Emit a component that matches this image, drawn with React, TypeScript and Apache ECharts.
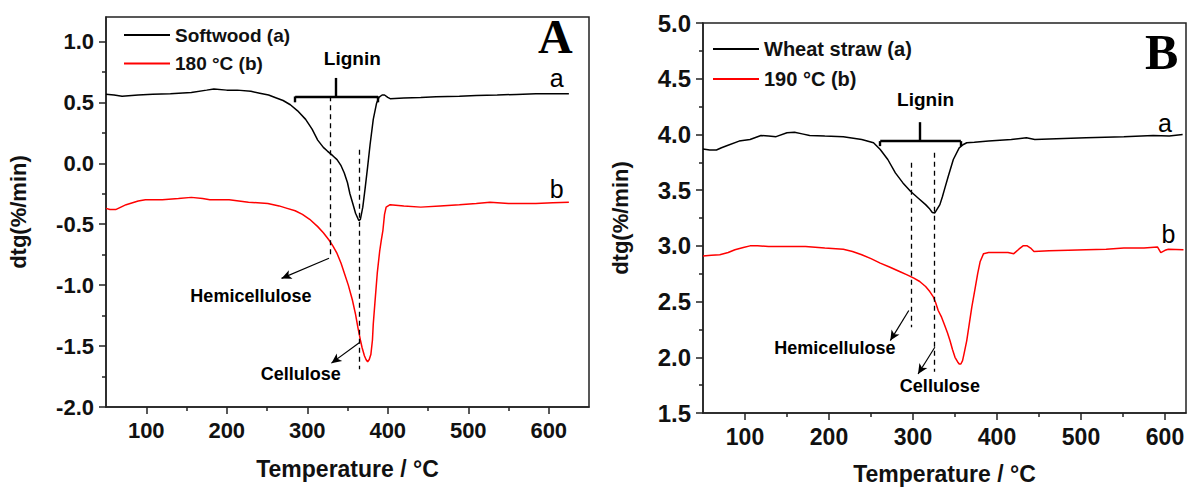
import React, { useEffect, useRef } from "react";
import * as echarts from "echarts";

const FONT = '"Liberation Sans", Arial, sans-serif';

// ---------- Panel A data (°C, dtg %/min) ----------
const softwoodA: [number, number][] = [
  [50, 0.567], [60, 0.56], [70, 0.55], [90, 0.56], [108, 0.567], [130, 0.57], [156, 0.58], [175, 0.6], [184, 0.61],
  [200, 0.6], [213, 0.6], [230, 0.59], [241, 0.575], [252, 0.56], [260, 0.54], [270, 0.515], [279, 0.48], [288, 0.43],
  [298, 0.36], [306, 0.28], [313, 0.19], [320, 0.13], [325, 0.1], [332, 0.06], [337, 0.03], [342, -0.02], [346, -0.08],
  [350, -0.16], [353, -0.25], [357, -0.34], [360, -0.41], [364, -0.47], [366, -0.46], [369, -0.36], [372, -0.2],
  [375, -0.03], [378, 0.15], [382, 0.36], [386, 0.49], [389, 0.54], [393, 0.56], [396, 0.56], [400, 0.54], [403, 0.53],
  [420, 0.535], [441, 0.54], [460, 0.545], [489, 0.55], [510, 0.555], [536, 0.56], [560, 0.565], [584, 0.57],
  [605, 0.57], [625, 0.57],
];
const treated180: [number, number][] = [
  [50, -0.37], [55, -0.38], [62, -0.38], [75, -0.34], [90, -0.31], [99, -0.3], [120, -0.3], [140, -0.29], [156, -0.28],
  [170, -0.29], [179, -0.3], [203, -0.3], [227, -0.32], [251, -0.33], [265, -0.35], [275, -0.37], [285, -0.39],
  [294, -0.42], [303, -0.46], [313, -0.52], [320, -0.57], [327, -0.63], [332, -0.68], [337, -0.74], [342, -0.82],
  [346, -0.9], [351, -1.0], [356, -1.12], [360, -1.24], [363, -1.35], [366, -1.45], [368, -1.51], [371, -1.58],
  [373, -1.61], [375, -1.63], [377, -1.61], [379, -1.57], [381, -1.45], [382, -1.32], [384, -1.15], [387, -0.9],
  [390, -0.72], [392, -0.63], [394, -0.55], [396, -0.42], [398, -0.36], [403, -0.34], [420, -0.35], [441, -0.36],
  [465, -0.35], [489, -0.34], [510, -0.33], [527, -0.32], [550, -0.33], [584, -0.33], [605, -0.325], [625, -0.32],
];

// ---------- Panel B data ----------
const wheatStrawB: [number, number][] = [
  [50, 3.87], [58, 3.86], [66, 3.86], [72, 3.88], [79, 3.9], [93, 3.94], [106, 3.955], [119, 3.99], [128, 3.985],
  [137, 3.98], [150, 4.015], [159, 4.02], [168, 4.005], [177, 3.99], [195, 3.985], [217, 3.98], [239, 3.955],
  [253, 3.925], [261, 3.865], [270, 3.775], [279, 3.655], [288, 3.565], [297, 3.49], [306, 3.43], [315, 3.37],
  [320, 3.33], [323, 3.3], [326, 3.295], [328, 3.32], [332, 3.37], [335, 3.44], [338, 3.52], [342, 3.625],
  [348, 3.775], [355, 3.88], [360, 3.91], [364, 3.925], [373, 3.93], [390, 3.94], [417, 3.955], [435, 3.97],
  [445, 3.955], [462, 3.96], [506, 3.97], [551, 3.98], [586, 3.99], [605, 3.985], [621, 4.0],
];
const treated190: [number, number][] = [
  [50, 2.91], [60, 2.915], [70, 2.92], [80, 2.94], [88, 2.965], [98, 2.985], [106, 3.0], [115, 3.0], [128, 2.995],
  [150, 2.995], [172, 2.995], [195, 2.98], [217, 2.97], [228, 2.95], [239, 2.92], [250, 2.885], [261, 2.845],
  [272, 2.81], [284, 2.77], [293, 2.74], [301, 2.71], [308, 2.68], [315, 2.635], [320, 2.59], [324, 2.545],
  [327, 2.49], [330, 2.42], [334, 2.36], [337, 2.3], [341, 2.22], [344, 2.15], [347, 2.07], [350, 2.0], [353, 1.96],
  [355, 1.94], [357, 1.94], [359, 1.97], [361, 2.04], [364, 2.15], [367, 2.3], [370, 2.45], [374, 2.62], [377, 2.75],
  [380, 2.86], [384, 2.93], [390, 2.94], [400, 2.94], [413, 2.94], [420, 2.93], [426, 2.97], [431, 3.0], [436, 3.0],
  [440, 2.98], [444, 2.95], [462, 2.955], [485, 2.96], [506, 2.965], [530, 2.97], [551, 2.98], [575, 2.98],
  [591, 2.99], [595, 2.94], [600, 2.96], [604, 2.97], [622, 2.965],
];

// ---------- Axis ticks ----------
const xTicks = [100, 200, 300, 400, 500, 600];
const yTicksA = [-2.0, -1.5, -1.0, -0.5, 0.0, 0.5, 1.0];
const yTicksB = [1.5, 2.0, 2.5, 3.0, 3.5, 4.0, 4.5, 5.0];

// ---------- Annotations (data coordinates) ----------
// bracket: [xLeft, xRight, yLine, yEnds, xCenter, yTop]
const bracketA = [285, 388, 0.548, 0.5, 335, 0.7];
const bracketB = [261, 357, 3.94, 3.895, 308, 4.11];
// dashed guides: [x, yFrom, yTo]
const dashedA: [number, number, number][] = [[328, 0.55, -0.78], [365, 0.11, -1.69]];
const dashedB: [number, number, number][] = [[298, 3.745, 2.27], [325, 3.835, 1.87]];
// arrows: [x1, y1, x2, y2]
const arrowsA: [number, number, number, number][] = [[327, -0.78, 268, -0.945], [365, -1.47, 330, -1.64]];
const arrowsB: [number, number, number, number][] = [[295, 2.42, 273, 2.15], [326, 2.09, 306, 1.85]];
// labels: [x, y, text, bold]
const labelsA: [number, number, string, boolean][] = [
  [356, 0.86, "Lignin", true], [230, -1.09, "Hemicellulose", true], [292, -1.73, "Cellulose", true],
  [610, 0.7, "a", false], [610, -0.21, "b", false],
];
const labelsB: [number, number, string, boolean][] = [
  [315, 4.315, "Lignin", true], [207, 2.08, "Hemicellulose", true], [332, 1.74, "Cellulose", true],
  [600, 4.105, "a", false], [604, 3.11, "b", false],
];

const seriesNamesA = ["Softwood (a)", "180 °C (b)"];
const seriesNamesB = ["Wheat straw (a)", "190 °C (b)"];

const GRID_W = 483;
const GRID_H = 390;
const AXIS_COLOR = "#222";

function annotationLines(br: number[], dashed: [number, number, number][], arrows: [number, number, number, number][]) {
  const solid = { color: "#000", width: 2.4, type: "solid" as const };
  const data: any[] = [
    [{ coord: [br[0], br[2]], lineStyle: solid }, { coord: [br[1], br[2]] }],
    [{ coord: [br[0], br[2]], lineStyle: solid }, { coord: [br[0], br[3]] }],
    [{ coord: [br[1], br[2]], lineStyle: solid }, { coord: [br[1], br[3]] }],
    [{ coord: [br[4], br[2]], lineStyle: solid }, { coord: [br[4], br[5]] }],
  ];
  dashed.forEach((d) => {
    data.push([
      { coord: [d[0], d[1]], lineStyle: { color: "#000", width: 1.3, type: [5, 4] } },
      { coord: [d[0], d[2]] },
    ]);
  });
  arrows.forEach((a) => {
    data.push([
      { coord: [a[0], a[1]], symbol: "none", lineStyle: { color: "#000", width: 1.2, type: "solid" } },
      { coord: [a[2], a[3]], symbol: "arrow", symbolSize: [7, 10] },
    ]);
  });
  return {
    silent: true,
    symbol: "none",
    animation: false,
    label: { show: false },
    emphasis: { disabled: true },
    data,
  };
}

function labelSeries(labels: [number, number, string, boolean][], axisIdx: number) {
  return {
    type: "scatter",
    xAxisIndex: axisIdx,
    yAxisIndex: axisIdx,
    symbolSize: 0,
    silent: true,
    z: 5,
    itemStyle: { opacity: 1 },
    data: labels.map((l) => ({
      value: [l[0], l[1]],
      name: l[2],
      label: {
        show: true,
        position: "inside",
        formatter: "{b}",
        fontFamily: FONT,
        fontWeight: l[3] ? "bold" : "normal",
        fontSize: l[3] ? (l[2] === "Lignin" ? 19 : 18) : 25,
        color: "#000",
        opacity: 1,
      },
    })),
  };
}

function mainX(gridIndex: number, max: number, fontSize: number, nameGap: number) {
  return {
    type: "value",
    gridIndex,
    position: "bottom",
    min: 50,
    max,
    name: "Temperature / °C",
    nameLocation: "middle",
    nameGap,
    nameTextStyle: { fontFamily: FONT, fontWeight: "bold", fontSize: 23, color: "#111" },
    axisLine: { show: true, onZero: false, lineStyle: { color: AXIS_COLOR, width: 1.5 } },
    axisTick: { show: true, inside: false, length: 7, customValues: xTicks, lineStyle: { color: AXIS_COLOR, width: 1.5 } },
    minorTick: { show: true, splitNumber: 2, length: 4, lineStyle: { color: AXIS_COLOR, width: 1.5 } },
    axisLabel: {
      show: true,
      customValues: xTicks,
      margin: 12,
      fontFamily: FONT,
      fontWeight: "bold",
      fontSize,
      color: "#111",
      formatter: (v: number) => String(v),
    },
    splitLine: { show: false },
    minorSplitLine: { show: false },
  };
}
function mainY(gridIndex: number, min: number, max: number, ticks: number[], fontSize: number, nameGap: number) {
  return {
    type: "value",
    gridIndex,
    position: "left",
    min,
    max,
    interval: 0.5,
    name: "dtg(%/min)",
    nameLocation: "middle",
    nameRotate: 90,
    nameGap,
    nameTextStyle: { fontFamily: FONT, fontWeight: "bold", fontSize: 22, color: "#111" },
    axisLine: { show: true, onZero: false, lineStyle: { color: AXIS_COLOR, width: 1.5 } },
    axisTick: { show: true, inside: false, length: 7, customValues: ticks, lineStyle: { color: AXIS_COLOR, width: 1.5 } },
    minorTick: { show: true, splitNumber: 2, length: 4, lineStyle: { color: AXIS_COLOR, width: 1.5 } },
    axisLabel: {
      show: true,
      customValues: ticks,
      margin: 12,
      fontFamily: FONT,
      fontWeight: "bold",
      fontSize,
      color: "#111",
      formatter: (v: number) => v.toFixed(1),
    },
    splitLine: { show: false },
    minorSplitLine: { show: false },
  };
}

function legendCfg(names: string[], left: number, top: number, fontSize: number, gap: number) {
  return {
    data: names,
    orient: "vertical",
    left,
    top,
    itemWidth: 46,
    itemHeight: 2,
    icon: "rect",
    itemGap: gap,
    selectedMode: false,
    padding: 0,
    textStyle: { fontFamily: FONT, fontWeight: "bold", fontSize, lineHeight: 20, color: "#111" },
  };
}

export default function App() {
  const ref = useRef<HTMLDivElement>(null);
  useEffect(() => {
    if (!ref.current) return;
    const chart = echarts.init(ref.current, undefined, { renderer: "svg" });
    const option: any = {
      animation: false,
      backgroundColor: "#fff",
      grid: [
        { left: 106, top: 17, width: GRID_W, height: GRID_H, show: true, borderColor: AXIS_COLOR, borderWidth: 1.5, backgroundColor: "transparent" },
        { left: 703, top: 23, width: GRID_W, height: GRID_H, show: true, borderColor: AXIS_COLOR, borderWidth: 1.5, backgroundColor: "transparent" },
      ],
      xAxis: [mainX(0, 650, 22, 50), mainX(1, 625, 23, 49)],
      yAxis: [mainY(0, -2.0, 1.2, yTicksA, 22, 77), mainY(1, 1.5, 5.0, yTicksB, 24, 72)],
      legend: [legendCfg(seriesNamesA, 124, 25, 19, 8.6), legendCfg(seriesNamesB, 713, 39, 20, 10)],
      graphic: [
        { type: "text", left: 538, top: 12, style: { text: "A", font: 'bold 48px "Liberation Serif", "Times New Roman", serif', fill: "#000" } },
        { type: "text", left: 1145, top: 27, style: { text: "B", font: 'bold 50px "Liberation Serif", "Times New Roman", serif', fill: "#000" } },
      ],
      series: [
        {
          name: seriesNamesA[0], type: "line", xAxisIndex: 0, yAxisIndex: 0, data: softwoodA, showSymbol: false, symbol: "none",
          color: "#000", lineStyle: { color: "#000", width: 1.5 }, z: 3,
          markLine: annotationLines(bracketA, dashedA, arrowsA),
        },
        {
          name: seriesNamesA[1], type: "line", xAxisIndex: 0, yAxisIndex: 0, data: treated180, showSymbol: false, symbol: "none",
          color: "#f00", lineStyle: { color: "#f00", width: 1.5 }, z: 2,
        },
        {
          name: seriesNamesB[0], type: "line", xAxisIndex: 1, yAxisIndex: 1, data: wheatStrawB, showSymbol: false, symbol: "none",
          color: "#000", lineStyle: { color: "#000", width: 1.5 }, z: 3,
          markLine: annotationLines(bracketB, dashedB, arrowsB),
        },
        {
          name: seriesNamesB[1], type: "line", xAxisIndex: 1, yAxisIndex: 1, data: treated190, showSymbol: false, symbol: "none",
          color: "#f00", lineStyle: { color: "#f00", width: 1.5 }, z: 2,
        },
        labelSeries(labelsA, 0),
        labelSeries(labelsB, 1),
      ],
    };
    chart.setOption(option);
    return () => chart.dispose();
  }, []);
  return (
    <div
      ref={ref}
      style={{ position: "absolute", left: 0, top: 0, width: 1190, height: 492, background: "#fff" }}
    />
  );
}
